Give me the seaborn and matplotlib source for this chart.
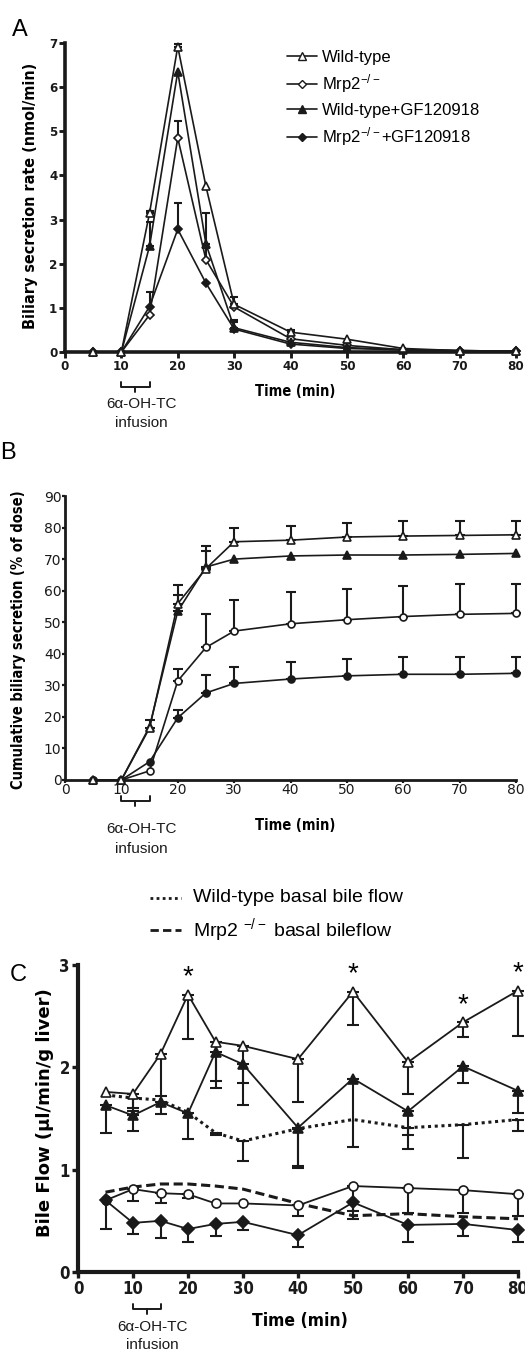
import numpy as np
import matplotlib
matplotlib.use("Agg")
import matplotlib.pyplot as plt
from matplotlib.lines import Line2D
import seaborn as sns

# ---------------- data ----------------
time = [5, 10, 15, 20, 25, 30, 40, 50, 60, 70, 80]
xticks = [0, 10, 20, 30, 40, 50, 60, 70, 80]

# Panel A: biliary secretion rate (nmol/min)
A_wt = [0, 0, 3.15, 6.92, 3.75, 1.08, 0.45, 0.29, 0.08, 0.03, 0.02]
A_wt_err = [0, 0, 0.05, 0.05, 0, 0.17, 0.05, 0, 0, 0, 0]
A_mrp2 = [0, 0, 0.84, 4.85, 2.09, 1.02, 0.30, 0.15, 0.05, 0.03, 0.02]
A_mrp2_err = [0, 0, 0, 0.39, 0.27, 0, 0, 0, 0, 0, 0]
A_wtgf = [0, 0, 2.40, 6.35, 2.45, 0.55, 0.22, 0.10, 0.05, 0.03, 0.02]
A_wtgf_err = [0, 0, 0.55, 0, 0.71, 0.17, 0, 0, 0, 0, 0]
A_mrp2gf = [0, 0, 1.03, 2.78, 1.56, 0.52, 0.18, 0.08, 0.05, 0.03, 0.02]
A_mrp2gf_err = [0, 0, 0.34, 0.59, 0, 0.17, 0, 0, 0, 0, 0]

# Panel B: cumulative biliary secretion (% of dose)
B_wt = [0, 0, 16.5, 55.9, 67.0, 75.5, 76.0, 77.0, 77.3, 77.5, 77.7]
B_wt_err = [0, 0, 2.5, 5.8, 7.0, 4.5, 4.5, 4.5, 4.7, 4.5, 4.5]
B_wtgf = [0, 0, 16.9, 53.5, 67.5, 70.0, 71.0, 71.3, 71.3, 71.5, 71.8]
B_wtgf_err = [0, 0, 0, 5.0, 5.0, 0, 0, 0, 0, 0, 0]
B_mrp2 = [0, 0, 2.9, 31.4, 42.0, 47.2, 49.5, 50.8, 51.8, 52.5, 52.8]
B_mrp2_err = [0, 0, 0, 3.7, 10.5, 9.8, 10.0, 9.8, 9.6, 9.5, 9.4]
B_mrp2gf = [0, 0, 5.8, 19.7, 27.6, 30.6, 32.0, 33.0, 33.5, 33.5, 33.8]
B_mrp2gf_err = [0, 0, 0, 2.5, 5.6, 5.3, 5.5, 5.5, 5.5, 5.5, 5.2]

# Panel C: bile flow (ul/min/g liver), error bars drawn downward
C_wt = [1.76, 1.74, 2.13, 2.71, 2.25, 2.21, 2.08, 2.74, 2.05, 2.44, 2.75]
C_wt_err = [0, 0.14, 0.41, 0.43, 0.38, 0.36, 0.42, 0.33, 0.31, 0.14, 0.44]
C_wtgf = [1.63, 1.53, 1.66, 1.55, 2.15, 2.03, 1.41, 1.89, 1.57, 2.01, 1.77]
C_wtgf_err = [0.27, 0.15, 0.12, 0.25, 0.35, 0.40, 0.39, 0.67, 0.37, 0.16, 0.22]
C_mrp2 = [0.70, 0.81, 0.77, 0.76, 0.67, 0.67, 0.65, 0.84, 0.82, 0.80, 0.76]
C_mrp2_err = [0, 0.12, 0.10, 0.04, 0, 0, 0.10, 0.24, 0.24, 0.22, 0.21]
C_mrp2gf = [0.70, 0.48, 0.50, 0.42, 0.47, 0.49, 0.36, 0.68, 0.46, 0.47, 0.41]
C_mrp2gf_err = [0.28, 0.11, 0.17, 0.13, 0.12, 0.08, 0.12, 0.16, 0.17, 0.12, 0.12]
C_wt_basal = [1.73, 1.70, 1.68, 1.56, 1.36, 1.28, 1.40, 1.49, 1.41, 1.44, 1.49]
C_wt_basal_err = [0, 0.13, 0, 0, 0.02, 0.20, 0.36, 0, 0.07, 0.33, 0.11]
C_mrp2_basal = [0.78, 0.83, 0.86, 0.86, 0.84, 0.81, 0.67, 0.55, 0.57, 0.54, 0.52]
C_signif = [20, 50, 70, 80]

legendA = ["Wild-type", r"Mrp2$^{-/-}$", "Wild-type+GF120918", r"Mrp2$^{-/-}$+GF120918"]
legendC = ["Wild-type basal bile flow", r"Mrp2 $^{-/-}$ basal bileflow"]

# ---------------- style ----------------
sns.set_theme(style="ticks")
plt.rcParams["font.family"] = ["Liberation Sans", "DejaVu Sans"]
plt.rcParams["mathtext.fontset"] = "custom"
plt.rcParams["mathtext.rm"] = "Liberation Sans"
plt.rcParams["mathtext.it"] = "Liberation Sans"
for k in ["text.color", "axes.labelcolor", "xtick.color", "ytick.color", "axes.edgecolor"]:
    plt.rcParams[k] = "black"

W, H = 525, 1352
fig = plt.figure(figsize=(W / 100, H / 100), dpi=100)


def px_axes(left, top, right, bottom):
    return fig.add_axes([left / W, 1 - bottom / H, (right - left) / W, (bottom - top) / H])


def series(ax, y, err, marker, filled, ms, lw, direction, capsize, zorder=3, ls="-"):
    sns.lineplot(x=time, y=y, ax=ax, color="k", lw=lw, ls=ls, marker=marker, markersize=ms,
                 markerfacecolor="k" if filled else "white", markeredgecolor="k",
                 markeredgewidth=1.2, errorbar=None, clip_on=False, zorder=zorder)
    if err is not None:
        t = np.array(time, float)
        yv = np.array(y, float)
        e = np.array(err, float)
        m = e > 0
        if m.any():
            z = np.zeros(m.sum())
            yerr = [z, e[m]] if direction == "up" else [e[m], z]
            ax.errorbar(t[m], yv[m], yerr=yerr, fmt="none", ecolor="k", elinewidth=1.5,
                        capsize=capsize, capthick=1.5, clip_on=False, zorder=zorder - 1)


def style_axes(ax, spine_w, tick_fs, tick_weight, ylim, yticks, stretch="normal",
               tlen=4, pad=2):
    ax.set_xlim(0, 80)
    ax.set_ylim(*ylim)
    ax.set_xticks(xticks)
    ax.set_yticks(yticks)
    for s in ["top", "right"]:
        ax.spines[s].set_visible(False)
    for s in ["left", "bottom"]:
        ax.spines[s].set_linewidth(spine_w)
        ax.spines[s].set_color("k")
    ax.tick_params(axis="both", direction="out", length=tlen, width=spine_w * 0.8, colors="k",
                   pad=pad)
    for lab in ax.get_xticklabels() + ax.get_yticklabels():
        lab.set_fontsize(tick_fs)
        lab.set_fontweight(tick_weight)
        lab.set_family("DejaVu Sans")
        lab.set_fontstretch(stretch)
        lab.set_color("k")
    ax.set_xlabel("")
    ax.set_ylabel("")


def infusion(ax, y_line_px, y_txt1_px, y_txt2_px, x0, x1):
    tr = ax.get_xaxis_transform()
    def yf(py):
        bb = ax.get_position()
        fy = 1 - py / H
        return (fy - bb.y0) / bb.height
    yl = yf(y_line_px)
    ax.plot([x0, x0, x1, x1], [yf(y_line_px - 5), yl, yl, yf(y_line_px - 5)], color="k",
            lw=1.4, transform=tr, clip_on=False)
    xm = (x0 + x1) / 2
    ax.plot([xm, xm], [yl, yf(y_line_px + 5)], color="k", lw=1.4, transform=tr, clip_on=False)
    ax.text(xm + 1.0, yf(y_txt1_px), "6α-OH-TC", transform=tr, ha="center", va="center",
            fontsize=11, color="k")
    ax.text(xm + 1.0, yf(y_txt2_px), "infusion", transform=tr, ha="center", va="center",
            fontsize=11, color="k")


# ---------------- Panel A ----------------
axA = px_axes(65, 43, 516, 352)
series(axA, A_wt, A_wt_err, "^", False, 6, 1.2, "up", 3, zorder=4)
series(axA, A_mrp2, A_mrp2_err, "D", False, 4.5, 1.2, "up", 3)
series(axA, A_wtgf, A_wtgf_err, "^", True, 6, 1.2, "up", 3)
series(axA, A_mrp2gf, A_mrp2gf_err, "D", True, 4.5, 1.2, "up", 3)
style_axes(axA, 2.6, 9.5, "bold", (0, 7), range(0, 8), stretch="condensed", pad=1.5)
fig.text(295 / W, 1 - 392 / H, "Time (min)", ha="center", va="center", fontsize=10.5,
         fontweight="bold", family="DejaVu Sans", fontstretch="condensed")
fig.text(31 / W, 1 - 196 / H, "Biliary secretion rate (nmol/min)", rotation=90, ha="center",
         va="center", fontsize=11.5, fontweight="bold", family="DejaVu Sans",
         fontstretch="condensed")
infusion(axA, 387, 404, 423, 10, 15)
hA = [Line2D([], [], color="k", lw=1.2, marker="^", ms=6, mfc="white", mec="k"),
      Line2D([], [], color="k", lw=1.2, marker="D", ms=4.5, mfc="white", mec="k"),
      Line2D([], [], color="k", lw=1.2, marker="^", ms=6, mfc="k", mec="k"),
      Line2D([], [], color="k", lw=1.2, marker="D", ms=4.5, mfc="k", mec="k")]
axA.legend(hA, legendA, frameon=False, loc="upper left", bbox_to_anchor=(287 / W, 1 - 50 / H),
           bbox_transform=fig.transFigure, fontsize=12, handlelength=1.8, handletextpad=0.3,
           labelspacing=0.45, borderaxespad=0, borderpad=0)
fig.text(12 / W, 1 - 30 / H, "A", fontsize=17, ha="left", va="center")

# ---------------- Panel B ----------------
axB = px_axes(65, 496, 516, 780)
series(axB, B_wt, B_wt_err, "^", False, 6, 1.2, "up", 3.5, zorder=4)
series(axB, B_wtgf, B_wtgf_err, "^", True, 6, 1.2, "up", 3.5)
series(axB, B_mrp2, B_mrp2_err, "o", False, 5, 1.2, "up", 3.5)
series(axB, B_mrp2gf, B_mrp2gf_err, "o", True, 5, 1.2, "up", 3.5)
style_axes(axB, 2.0, 10, "normal", (0, 90), range(0, 100, 10), tlen=2, pad=0.5)
fig.text(295 / W, 1 - 825 / H, "Time (min)", ha="center", va="center", fontsize=10.5,
         fontweight="bold", family="DejaVu Sans", fontstretch="condensed")
fig.text(19 / W, 1 - 640 / H, "Cumulative biliary secretion (% of dose)", rotation=90,
         ha="center", va="center", fontsize=10.5, fontweight="bold", family="DejaVu Sans",
         fontstretch="condensed")
infusion(axB, 801, 829, 849, 10, 15)
fig.text(0 / W, 1 - 453 / H, "B", fontsize=17, ha="left", va="center")

# legend for panel C (placed between B and C)
fig.add_artist(Line2D([150 / W, 181 / W], [1 - 898 / H] * 2, color="k", lw=2, ls=(0, (1, 1.2))))
fig.text(193 / W, 1 - 898 / H, legendC[0], fontsize=14, ha="left", va="center")
fig.add_artist(Line2D([150 / W, 181 / W], [1 - 930 / H] * 2, color="k", lw=2, ls=(0, (3, 1.5))))
fig.text(193 / W, 1 - 930 / H, legendC[1], fontsize=14, ha="left", va="center")

# ---------------- Panel C ----------------
axC = px_axes(78, 965, 518, 1272)
series(axC, C_wt_basal, C_wt_basal_err, None, False, 0, 2.2, "down", 4, zorder=2,
       ls=(0, (1, 1.2)))
series(axC, C_mrp2_basal, None, None, False, 0, 2.2, "down", 4, zorder=2, ls=(0, (3, 1.5)))
series(axC, C_wt, C_wt_err, "^", False, 7, 1.3, "down", 4.5, zorder=4)
series(axC, C_wtgf, C_wtgf_err, "^", True, 7, 1.3, "down", 4.5)
series(axC, C_mrp2, C_mrp2_err, "o", False, 6.5, 1.3, "down", 4.5)
series(axC, C_mrp2gf, C_mrp2gf_err, "D", True, 6, 1.3, "down", 4.5)
style_axes(axC, 3.0, 12, "bold", (0, 3), range(0, 4), stretch="condensed")
for t in C_signif:
    v = C_wt[time.index(t)]
    axC.text(t, v + 0.17, "*", ha="center", va="center", fontsize=20, clip_on=False)
fig.text(300 / W, 1 - 1321 / H, "Time (min)", ha="center", va="center", fontsize=12.5,
         fontweight="bold", family="DejaVu Sans", fontstretch="condensed")
fig.text(45 / W, 1 - 1113 / H, "Bile Flow (µl/min/g liver)", rotation=90, ha="center",
         va="center", fontsize=13, fontweight="bold", family="DejaVu Sans")
infusion(axC, 1309, 1327, 1345, 10, 15)
fig.text(10 / W, 1 - 975 / H, "C", fontsize=17, ha="left", va="center")

fig.savefig("out.png", dpi=100)
